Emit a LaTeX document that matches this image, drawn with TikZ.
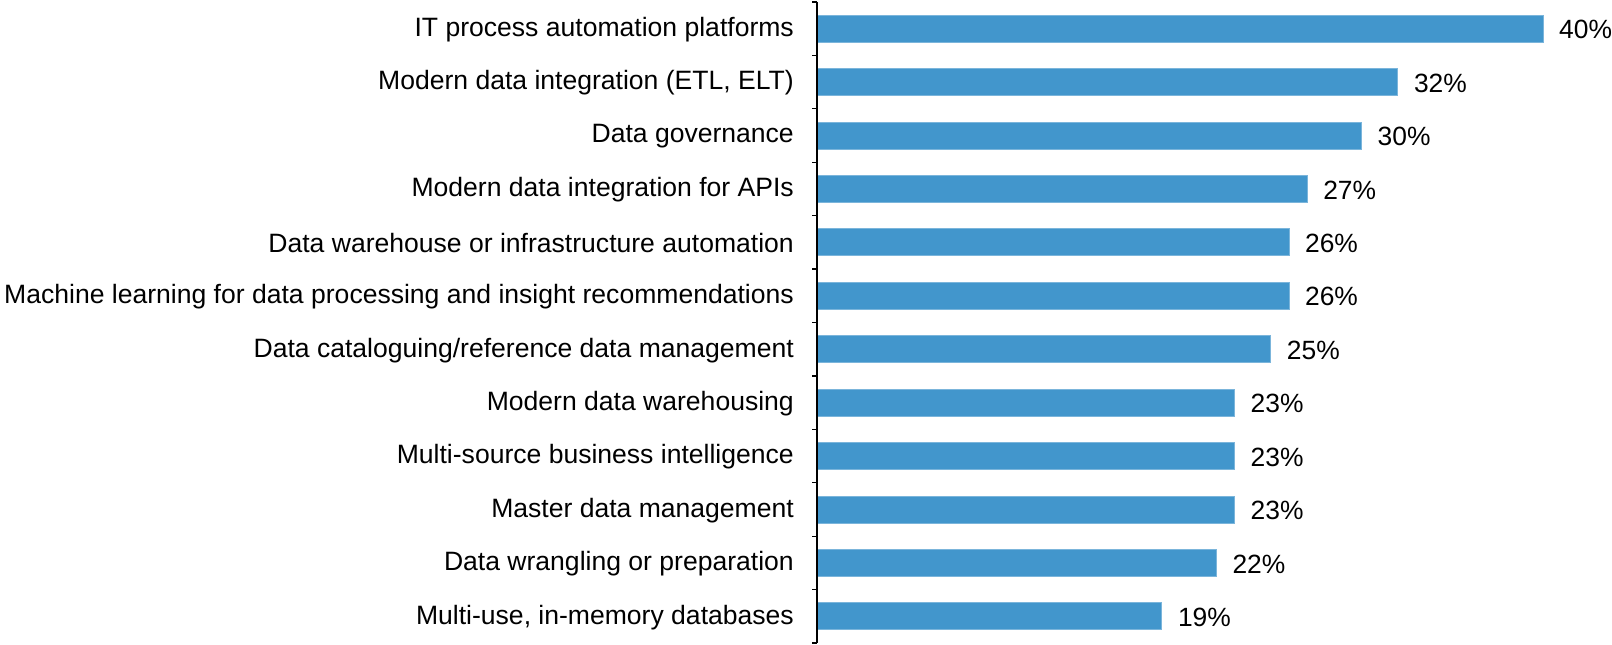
\documentclass[tikz,border=0pt]{standalone}
\usepackage{fontspec}
\setmainfont{Liberation Sans}
\definecolor{barblue}{RGB}{66,150,204}
\begin{document}
\begin{tikzpicture}[x=1pt,y=1pt,
  bar/.style={fill=barblue,draw=barblue!70!white,line width=0.8pt},
  cat/.style={anchor=east,inner sep=0pt,font=\fontsize{26.55}{30}\selectfont},
  val/.style={anchor=west,inner sep=0pt,font=\fontsize{26.4}{30}\selectfont},
  axisline/.style={line width=1.8pt,black}]
\useasboundingbox (0,0) rectangle (1612,645);
\def\ax{817}
\def\sc{18.15}
\foreach \lab/\v [count=\i from 0] in {
  {IT process automation platforms}/40,
  {Modern data integration (ETL, ELT)}/32,
  {Data governance}/30,
  {Modern data integration for APIs}/27,
  {Data warehouse or infrastructure automation}/26,
  {Machine learning for data processing and insight recommendations}/26,
  {Data cataloguing/reference data management}/25,
  {Modern data warehousing}/23,
  {Multi-source business intelligence}/23,
  {Master data management}/23,
  {Data wrangling or preparation}/22,
  {Multi-use, in-memory databases}/19}{
  \pgfmathsetmacro{\yc}{645-(2+53.42*(\i+0.5))}
  \node[cat] (c\i) at (\ax-23,\yc-1) {\lab};
  \draw[bar] (\ax,\yc-13.5) rectangle (\ax+\v*\sc,\yc+13.5);
  \node[val] (v\i) at (\ax+\v*\sc+16,\yc-1) {\v\%};
}
\foreach \i in {0,...,12}{
  \pgfmathsetmacro{\yt}{645-(2+53.42*\i)}
  \draw[axisline,line width=1.3pt] (\ax-5,\yt) -- (\ax,\yt);
}
\coordinate (atop) at (\ax,643);
\coordinate (abot) at (\ax,645-643.04);
\draw[axisline] (atop) -- (abot);
\end{tikzpicture}
\end{document}
